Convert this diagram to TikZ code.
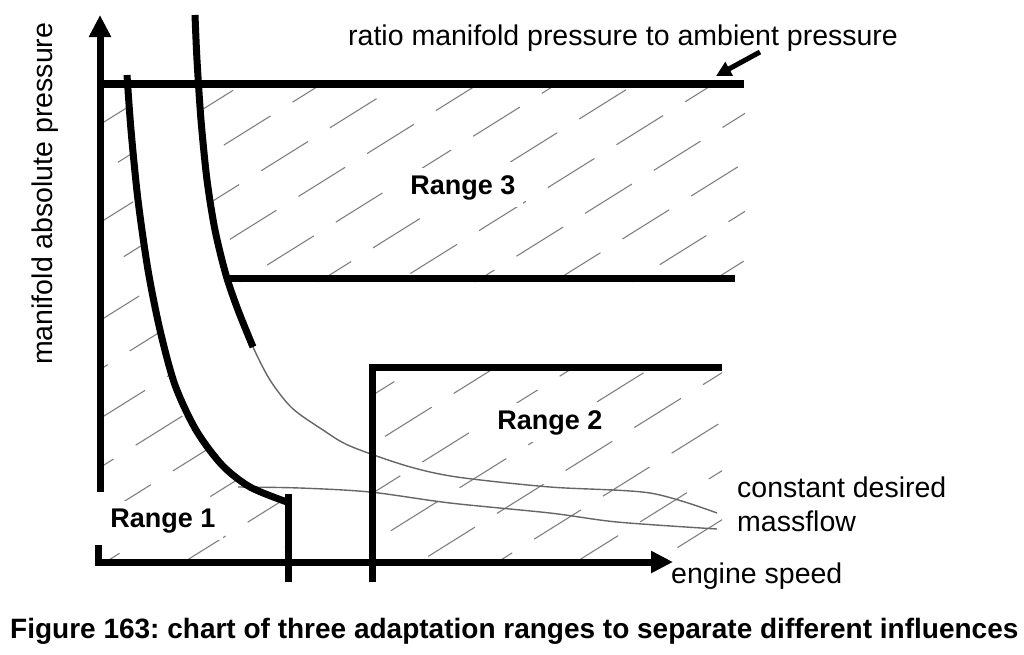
\documentclass[tikz,border=0pt]{standalone}
\usepackage{fontspec}
\setmainfont{Liberation Sans}
\usetikzlibrary{arrows.meta}
\frenchspacing
\begin{document}
\begin{tikzpicture}[x=1pt,y=-1pt,
  thickline/.style={line width=7pt, line cap=butt},
  hatchline/.style={draw=black!50, line width=1.1pt, dash pattern=on 55pt off 26pt},
  thincurve/.style={draw=black!60, line width=1.4pt},
  lbl/.style={font=\fontsize{28.5}{30}\selectfont, inner sep=0pt},
  rlbl/.style={font=\fontsize{27}{30}\selectfont\bfseries, fill=white, inner sep=7pt},
  bigtip/.style={-{Triangle[length=22pt,width=21pt]}}
]
\useasboundingbox (0,0) rectangle (1024,654);

% ---------- hatching ----------
\def\hatchfamily{%
  \foreach \c [count=\k] in {40,89,...,1140}{%
    \pgfmathsetmacro{\ph}{mod(\k*37,81)}%
    \draw[hatchline, dash phase=\ph pt] (0,\c) -- (1024,\c-640);
  }}
\def\curveB{(195,15) (197,60) (201,120) (207,180) (215,230) (226,275) (238,310) (253,347)}
\def\curveA{(127,75) (131,130) (138,200) (148,270) (160,330) (175,385) (196,430) (222,465) (250,487) (287,502)}
% Range 3
\begin{scope}
  \clip (0,84) rectangle (1024,654);
  \clip plot[smooth] coordinates {(195,15) (197,60) (201,120) (207,180) (215,230) (226,275) (228,282)} -- (745,282) -- (745,15) -- cycle;
  \hatchfamily
\end{scope}
% Range 1
\begin{scope}
  \clip (0,84) rectangle (1024,654);
  \clip plot[smooth] coordinates {\curveA} -- (288,562) -- (100,562) -- (100,75) -- cycle;
  \hatchfamily
\end{scope}
% Range 2
\begin{scope}
  \clip (372,367) rectangle (722,562);
  \hatchfamily
\end{scope}

% ---------- thin constant massflow curves ----------
\draw[thincurve] plot[smooth] coordinates {(238,310) (253,347) (270,380) (292,408) (323,430) (350,446) (407,466) (457,477) (550,487) (650,493) (717,513)};
\draw[thincurve] plot[smooth] coordinates {(238,487) (300,488) (370,492) (450,503) (550,513) (617,522) (717,529)};

% ---------- range labels ----------
\node[rlbl, anchor=base] (r3) at (463,194) {Range 3};
\node[rlbl, anchor=base] (r2) at (550,429) {Range 2};
\node[rlbl, anchor=base] (r1) at (163,527) {Range 1};

% ---------- thick curves ----------
\draw[thickline] plot[smooth] coordinates {\curveA};
\draw[thickline] plot[smooth] coordinates {\curveB};

% ---------- axes ----------
\coordinate (ybot) at (100,492);
\coordinate (ytop) at (100,15);
\coordinate (xstub) at (98,545);
\coordinate (origin) at (98,562);
\coordinate (xtip) at (673,562);
\draw[thickline, bigtip] (ybot) -- (ytop);
\draw[thickline, bigtip] (xstub) -- (origin) -- (xtip);

% ---------- range boundaries ----------
\coordinate (ambL) at (97,84);
\coordinate (ambR) at (744,84);
\draw[line width=8pt] (ambL) -- (ambR);
\coordinate (r3L) at (226,278);
\coordinate (r3R) at (735,278);
\draw[thickline] (r3L) -- (r3R);
\coordinate (r2top) at (288,494);
\coordinate (r2bot) at (288,582);
\draw[thickline] (r2top) -- (r2bot);
\coordinate (b2a) at (372,582);
\coordinate (b2b) at (372,367);
\coordinate (b2c) at (722,367);
\draw[thickline, line join=miter] (b2a) -- (b2b) -- (b2c);

% ---------- texts ----------
\node[lbl, anchor=base west] (ratio) at (348,45) {ratio manifold pressure to ambient pressure};
\coordinate (pA) at (760,52);
\coordinate (pB) at (716,76);
\draw[line width=5pt, -{Triangle[length=15pt,width=15pt]}] (pA) -- (pB);
\node[lbl, anchor=base west] (cdm) at (737,497) {constant desired};
\node[lbl, anchor=base west] (mf) at (737,531) {massflow};
\node[lbl, anchor=base west] (es) at (671,583) {engine speed};
\node[lbl, anchor=base west, rotate=90] (yl) at (52,365) {manifold absolute pressure};
\node[lbl, anchor=base west, font=\fontsize{28}{30}\selectfont\bfseries] (cap) at (10,638) {Figure 163: chart of three adaptation ranges to separate different influences};
\end{tikzpicture}
\end{document}
